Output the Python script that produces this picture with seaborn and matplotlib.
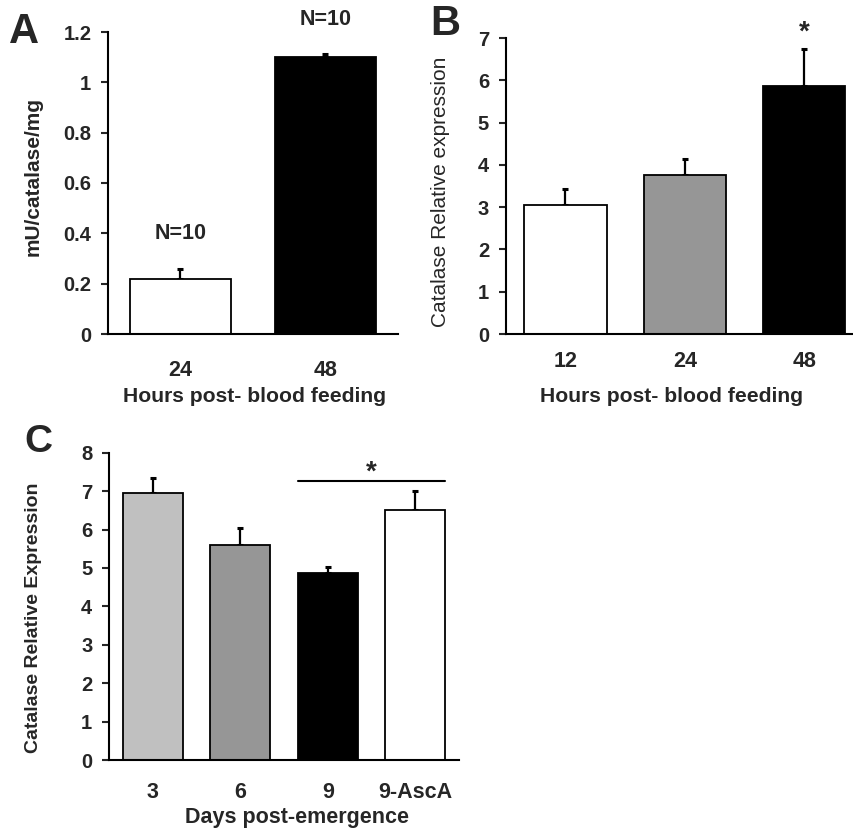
import numpy as np
import matplotlib
matplotlib.use("Agg")
import matplotlib.pyplot as plt
import pandas as pd
import seaborn as sns

# panel A: catalase activity
a_hours = ["24", "48"]
a_vals = [0.22, 1.10]
a_err = [0.04, 0.013]
a_colors = ["#ffffff", "#000000"]
a_n = ["N=10", "N=10"]

# panel B: catalase expression after blood feeding
b_hours = ["12", "24", "48"]
b_vals = [3.06, 3.77, 5.86]
b_err = [0.37, 0.37, 0.88]
b_colors = ["#ffffff", "#969696", "#000000"]

# panel C: expression by days post-emergence
c_days = ["3", "6", "9", "9-AscA"]
c_vals = [6.96, 5.61, 4.87, 6.52]
c_err = [0.38, 0.42, 0.15, 0.48]
c_colors = ["#c0c0c0", "#969696", "#000000", "#ffffff"]

sns.set_style("white")
plt.rcParams["font.family"] = ["Liberation Sans", "DejaVu Sans"]
plt.rcParams["font.weight"] = "bold"

fig = plt.figure(figsize=(8.54, 8.30), dpi=100)
W, H = 854, 830


def box(l, t, r, b):
    return [l / W, 1 - b / H, (r - l) / W, (b - t) / H]


def panel(ax, cats, vals, err, colors, ymax, ystep, fmt):
    df = pd.DataFrame({"cat": cats, "val": vals})
    sns.barplot(data=df, x="cat", y="val", hue="cat", palette=colors,
                width=0.69, edgecolor="black", linewidth=1.3,
                legend=False, ax=ax, zorder=2)
    # upper error only; bars hide the lower half
    ax.errorbar(np.arange(len(cats)), vals,
                yerr=[np.zeros(len(vals)), err], fmt="none",
                ecolor="black", elinewidth=1.6, capsize=2, capthick=2.2,
                zorder=1)
    ax.set_xlim(-0.5, len(cats) - 0.5)
    ax.set_ylim(0, ymax)
    ticks = np.arange(0, ymax + ystep / 2, ystep)
    ax.set_yticks(ticks)
    ax.set_yticklabels([fmt(t) for t in ticks])
    for s in ["top", "right"]:
        ax.spines[s].set_visible(False)
    for s in ["left", "bottom"]:
        ax.spines[s].set_linewidth(1.5)
        ax.spines[s].set_color("black")
        ax.spines[s].set_zorder(3)
    ax.tick_params(axis="y", left=True, length=5, width=1.5, pad=7,
                   labelsize=14.5)
    ax.tick_params(axis="x", bottom=False, length=0, labelsize=15.5)


def fmt_a(v):
    if abs(v) < 1e-9:
        return "0"
    if abs(v - round(v)) < 1e-9:
        return str(int(round(v)))
    return f"{v:.1f}"


def fmt_i(v):
    return str(int(round(v)))


# A
axA = fig.add_axes(box(108, 32, 398, 334))
panel(axA, a_hours, a_vals, a_err, a_colors, 1.2, 0.2, fmt_a)
axA.tick_params(axis="x", pad=19)
axA.set_xlabel("Hours post- blood feeding", fontsize=15.2, fontweight="bold")
axA.set_ylabel("mU/catalase/mg", fontsize=15, fontweight="bold")
axA.xaxis.label.set_va("center")
axA.yaxis.label.set_va("center")
axA.xaxis.set_label_coords(0.507, (334 - 396) / 302)
axA.yaxis.set_label_coords((33 - 108) / 290, 0.52)
axA.text(0, 0.40, a_n[0], ha="center", va="center", fontsize=15.5,
         fontweight="bold")
axA.text(1, 1.25, a_n[1], ha="center", va="center", fontsize=15.5,
         fontweight="bold", clip_on=False)

# B
axB = fig.add_axes(box(505.75, 38, 864, 334))
panel(axB, b_hours, b_vals, b_err, b_colors, 7, 1, fmt_i)
axB.tick_params(axis="x", pad=12)
axB.set_xlabel("Hours post- blood feeding", fontsize=15.2, fontweight="bold")
axB.set_ylabel("Catalase Relative expression", fontsize=15,
               fontweight="normal")
axB.xaxis.label.set_va("center")
axB.yaxis.label.set_va("center")
axB.xaxis.set_label_coords((672 - 505.75) / 358.25, (334 - 396) / 296)
axB.yaxis.set_label_coords((441 - 505.75) / 358.25, 0.48)
axB.text(2, 6.95, "*", ha="center", va="baseline", fontsize=20,
         fontweight="bold", clip_on=False)

# C
axC = fig.add_axes(box(109, 452.7, 459, 760))
panel(axC, c_days, c_vals, c_err, c_colors, 8, 1, fmt_i)
axC.tick_params(axis="x", pad=16)
axC.set_xlabel("Days post-emergence", fontsize=15.5, fontweight="bold")
axC.set_ylabel("Catalase Relative Expression", fontsize=14,
               fontweight="bold")
axC.xaxis.label.set_va("center")
axC.yaxis.label.set_va("center")
axC.xaxis.set_label_coords((297 - 109) / 350, (760 - 817) / 307.3)
axC.yaxis.set_label_coords((33.5 - 109) / 350, 0.464)
axC.plot([2 - 0.345, 3 + 0.345], [7.27, 7.27], color="black", lw=1.5,
         clip_on=False)
axC.text(2.5, 7.3, "*", ha="center", va="baseline", fontsize=20,
         fontweight="bold", clip_on=False)

# panel letters
fig.text(9 / W, 1 - 43 / H, "A", fontsize=30, fontweight="bold",
         va="baseline")
fig.text(430 / W, 1 - 35 / H, "B", fontsize=30, fontweight="bold",
         va="baseline")
fig.text(24 / W, 1 - 452 / H, "C", fontsize=28, fontweight="bold",
         va="baseline")

fig.savefig("out.png", dpi=100)
